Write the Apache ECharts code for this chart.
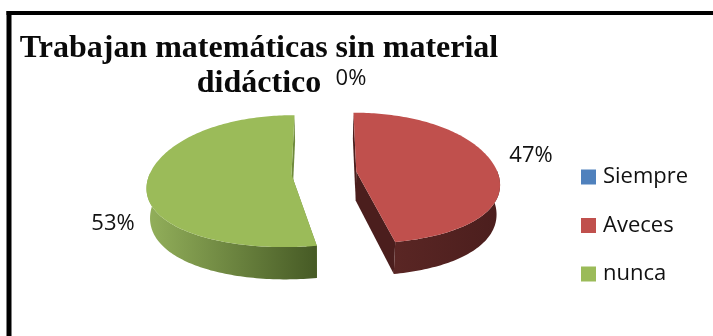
<!DOCTYPE html>
<html>
<head>
<meta charset="utf-8">
<style>html,body{margin:0;padding:0;background:#fff}#c{width:713px;height:336px}</style>
<script src="https://cdn.jsdelivr.net/npm/echarts@6/dist/echarts.min.js"></script>
</head>
<body>
<div id="c"></div>
<script>
// Survey answers, share of responses per option
const categories = ['Siempre', 'Aveces', 'nunca'];
const values = [0, 47, 53];
const titleLines = ['Trabajan matemáticas sin material', 'didáctico'];

const topColors = ['#4f81bd', '#c0504d', '#9bbb59'];
const sideColors = [
  ['#4f81bd', '#2a4a70'],
  ['#5a2624', '#4b1e1d'],
  ['#93b05b', '#465a25']
];
const wallColors = ['#2a4a70', '#4b1e1d', '#6f8a3c'];
const labelSpots = [[351, 79], [531, 156], [113, 224]];

// Tilted, exploded pie: a perspective projection of a short cylinder
const geo = { cx: 324, cy: 173, rx: 141.5, ry: 65, k: 0.1, xLinear: 0.155, xCurve: 0.065, explode: 0.23, lift: 1.07, depth: 29, baseShrink: 0.98 };
const total = values.reduce((a, b) => a + b, 0);

function project(X, Y, lower) {
  const w = 1 / (1 - geo.k * Y);
  const wx = 1 + geo.xLinear * Y + geo.xCurve * Y * Y;
  const s = lower ? geo.baseShrink : 1;
  return [
    geo.cx + geo.rx * wx * X * s,
    geo.cy + geo.ry * w * Y + (lower ? geo.depth * w : 0)
  ];
}

function sliceGeometry(index) {
  const before = values.slice(0, index).reduce((a, b) => a + b, 0);
  const a0 = before / total * Math.PI * 2;
  const a1 = (before + values[index]) / total * Math.PI * 2;
  const mid = (a0 + a1) / 2;
  const ox = Math.sin(mid) * geo.explode;
  const oy = -Math.cos(mid) * geo.explode * geo.lift;
  const rim = [];
  const steps = Math.max(2, Math.ceil((a1 - a0) / 0.02));
  for (let i = 0; i <= steps; i++) {
    const a = a0 + (a1 - a0) * i / steps;
    rim.push([ox + Math.sin(a), oy - Math.cos(a), a]);
  }
  return { rim, ox, oy };
}

function renderSlice(index) {
  return function (params, api) {
    const children = [];
    const pct = Math.round(api.value(0) / total * 100) + '%';
    if (api.value(0) > 0) {
      const { rim, ox, oy } = sliceGeometry(index);
      const apexTop = project(ox, oy, false);
      const apexLow = project(ox, oy, true);
      const topFace = [apexTop].concat(rim.map(p => project(p[0], p[1], false)));
      const first = rim[0], last = rim[rim.length - 1];

      // back cut walls first, then the front of the rim, then the top surface
      [first, last].forEach(p => {
        children.push({
          type: 'polygon',
          shape: { points: [apexTop, project(p[0], p[1], false), project(p[0], p[1], true), apexLow] },
          style: { fill: wallColors[index] }
        });
      });
      const front = rim.filter(p => p[1] - oy > -0.02);
      const outer = front.map(p => project(p[0], p[1], false))
        .concat(front.slice().reverse().map(p => project(p[0], p[1], true)));
      children.push({
        type: 'polygon',
        shape: { points: outer },
        style: {
          fill: new echarts.graphic.LinearGradient(0, 0, 1, 0, [
            { offset: 0, color: sideColors[index][0] },
            { offset: 1, color: sideColors[index][1] }
          ])
        }
      });
      children.push({ type: 'polygon', shape: { points: topFace }, style: { fill: topColors[index] } });
    }
    children.push({
      type: 'text',
      x: labelSpots[index][0],
      y: labelSpots[index][1],
      style: {
        text: pct, fill: '#111', align: 'center', verticalAlign: 'middle',
        font: '22px "Open Sans", sans-serif'
      }
    });
    return { type: 'group', children };
  };
}

const chart = echarts.init(document.getElementById('c'), null, { renderer: 'canvas' });
chart.setOption({
  animation: false,
  backgroundColor: '#fff',
  title: {
    text: titleLines.join('\n'),
    left: 254,
    top: 26,
    textAlign: 'center',
    textStyle: {
      fontFamily: '"Liberation Serif", serif',
      fontWeight: 'bold',
      fontSize: 32,
      lineHeight: 35,
      color: '#0a0a0a'
    }
  },
  legend: {
    orient: 'vertical',
    left: 581,
    top: 166,
    padding: 0,
    itemWidth: 15,
    itemHeight: 15,
    itemGap: 26.5,
    icon: 'rect',
    selectedMode: false,
    data: categories,
    textStyle: { fontFamily: '"Open Sans", sans-serif', fontSize: 22, color: '#111', lineHeight: 15, padding: [0, 0, 0, 2] }
  },
  series: categories.map((name, i) => ({
    type: 'custom',
    name,
    coordinateSystem: 'none',
    itemStyle: { color: topColors[i] },
    renderItem: renderSlice(i),
    data: [[values[i]]],
    silent: true
  })),
  // open frame: heavy rule along the top and down the left side
  graphic: [
    { type: 'rect', silent: true, z: 100, shape: { x: 6.5, y: 11, width: 707, height: 4 }, style: { fill: '#000' } },
    { type: 'rect', silent: true, z: 100, shape: { x: 6.5, y: 11, width: 5, height: 325 }, style: { fill: '#000' } }
  ]
});
</script>
</body>
</html>
